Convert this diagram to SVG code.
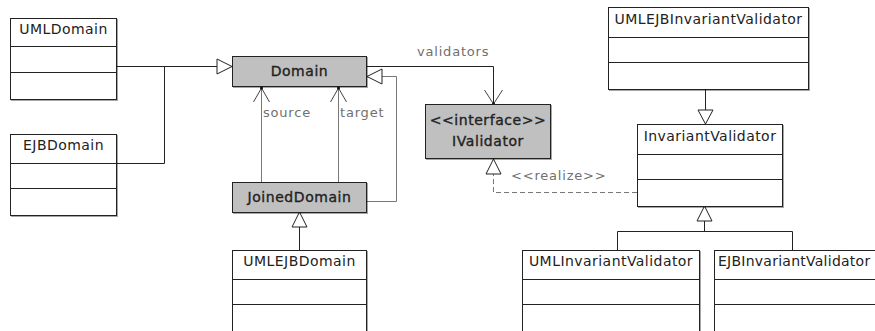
<svg xmlns="http://www.w3.org/2000/svg" width="875" height="331" viewBox="0 0 875 331">
  <style>
    .box { fill: #ffffff; stroke: #222222; stroke-width: 1; filter: url(#shadow); }
    .box.gray { fill: #c0c0c0; }
    .div { stroke: #222222; stroke-width: 1; fill: none; }
    .name { font-family: "DejaVu Sans", sans-serif; font-size: 14px; letter-spacing: 0.45px; fill: #222222; text-anchor: middle; }
    .name.strong { letter-spacing: 0.55px; stroke: #222222; stroke-width: 0.35px; }
    .edge { fill: none; stroke: #222222; stroke-width: 1; }
    .edge.light { stroke: #777777; }
    .edge.dash { stroke: #777777; stroke-dasharray: 5 3; }
    .tri { fill: #ffffff; stroke: #222222; stroke-width: 1; }
    .open { fill: none; stroke: #444444; stroke-width: 1; }
    .dot { fill: #111111; }
    .label { font-family: "DejaVu Sans", sans-serif; font-size: 13px; letter-spacing: 0.8px; fill: #707070; }
  </style>
  <defs>
    <filter id="shadow" x="-5%" y="-5%" width="115%" height="115%">
      <feDropShadow dx="1" dy="1" stdDeviation="0.7" flood-color="#000000" flood-opacity="0.35"/>
    </filter>
  </defs>

  <rect width="875" height="331" fill="#ffffff"/>

  <!-- connectors -->
  <g id="connectors">
    <!-- UMLDomain / EJBDomain generalize Domain -->
    <path class="edge" d="M117,66.5 H217"/>
    <path class="edge" d="M117,163.5 H164.5 V66.5"/>
    <polygon class="tri" points="232,66.5 217,59 217,74"/>

    <!-- JoinedDomain generalizes Domain -->
    <path class="edge light" d="M367,201.5 H396.5 V76.5 H382"/>
    <polygon class="tri" points="367,76.5 382,69 382,84"/>

    <!-- source association -->
    <path class="edge light" d="M261.5,182 V88"/>
    <path class="open" d="M253.5,102 L261.5,88 L269.5,102"/>
    <circle class="dot" cx="261.5" cy="88" r="1.5"/>
    <text class="label" x="263" y="117">source</text>

    <!-- target association -->
    <path class="edge light" d="M338.5,182 V88"/>
    <path class="open" d="M330.5,102 L338.5,88 L346.5,102"/>
    <circle class="dot" cx="338.5" cy="88" r="1.5"/>
    <text class="label" x="340" y="117">target</text>

    <!-- validators association -->
    <path class="edge" d="M367,66.5 H493.5 V104"/>
    <path class="open" d="M484.5,90 L493.5,104 L502.5,90"/>
    <circle class="dot" cx="493.5" cy="104" r="1.5"/>
    <text class="label" x="417" y="56">validators</text>

    <!-- InvariantValidator realizes IValidator -->
    <path class="edge dash" d="M637,192.5 H493.5 V174"/>
    <polygon class="tri" points="493.5,159 486,174 501,174"/>
    <text class="label" x="511" y="180">&lt;&lt;realize&gt;&gt;</text>

    <!-- UMLEJBInvariantValidator generalizes InvariantValidator -->
    <path class="edge" d="M705.5,90 V110"/>
    <polygon class="tri" points="705.5,124 698,110 713,110"/>

    <!-- UML / EJB InvariantValidator generalize InvariantValidator -->
    <path class="edge" d="M617.5,250 V231.5 H792.5 V250"/>
    <path class="edge" d="M704.5,231.5 V221"/>
    <polygon class="tri" points="704.5,206 697,221 712,221"/>

    <!-- UMLEJBDomain generalizes JoinedDomain -->
    <path class="edge" d="M299.5,250 V227"/>
    <polygon class="tri" points="299.5,212 292,227 307,227"/>
  </g>

  <!-- class nodes -->
  <g id="UMLDomain">
    <rect class="box" x="10.5" y="18.5" width="106" height="81"/>
    <path class="div" d="M10.5,46.5 H116.5 M10.5,72.5 H116.5"/>
    <text class="name" x="63.5" y="34">UMLDomain</text>
  </g>

  <g id="EJBDomain">
    <rect class="box" x="10.5" y="134.5" width="106" height="81"/>
    <path class="div" d="M10.5,163.5 H116.5 M10.5,188.5 H116.5"/>
    <text class="name" x="63.5" y="150">EJBDomain</text>
  </g>

  <g id="Domain">
    <rect class="box gray" x="232.5" y="56.5" width="134" height="30"/>
    <text class="name strong" x="299.5" y="76">Domain</text>
  </g>

  <g id="JoinedDomain">
    <rect class="box gray" x="232.5" y="182.5" width="134" height="30"/>
    <text class="name strong" x="299.5" y="202">JoinedDomain</text>
  </g>

  <g id="UMLEJBDomain">
    <rect class="box" x="232.5" y="250.5" width="134" height="90"/>
    <path class="div" d="M232.5,279.5 H366.5 M232.5,304.5 H366.5"/>
    <text class="name" x="299.5" y="266">UMLEJBDomain</text>
  </g>

  <g id="IValidator">
    <rect class="box gray" x="425.5" y="104.5" width="125" height="54"/>
    <text class="name strong" x="488" y="125">&lt;&lt;interface&gt;&gt;</text>
    <text class="name strong" x="488" y="146">IValidator</text>
  </g>

  <g id="UMLEJBInvariantValidator">
    <rect class="box" x="608.5" y="7.5" width="200" height="82"/>
    <path class="div" d="M608.5,37.5 H808.5 M608.5,62.5 H808.5"/>
    <text class="name" x="708.5" y="24">UMLEJBInvariantValidator</text>
  </g>

  <g id="InvariantValidator">
    <rect class="box" x="637.5" y="124.5" width="145" height="82"/>
    <path class="div" d="M637.5,154.5 H782.5 M637.5,179.5 H782.5"/>
    <text class="name" x="710" y="141">InvariantValidator</text>
  </g>

  <g id="UMLInvariantValidator">
    <rect class="box" x="522.5" y="250.5" width="177" height="90"/>
    <path class="div" d="M522.5,279.5 H699.5 M522.5,304.5 H699.5"/>
    <text class="name" x="611" y="266">UMLInvariantValidator</text>
  </g>

  <g id="EJBInvariantValidator">
    <rect class="box" x="714.5" y="250.5" width="170" height="90"/>
    <path class="div" d="M714.5,279.5 H884.5 M714.5,304.5 H884.5"/>
    <text class="name" x="718" y="266" style="text-anchor: start; letter-spacing: 0.25px;">EJBInvariantValidator</text>
  </g>
</svg>
